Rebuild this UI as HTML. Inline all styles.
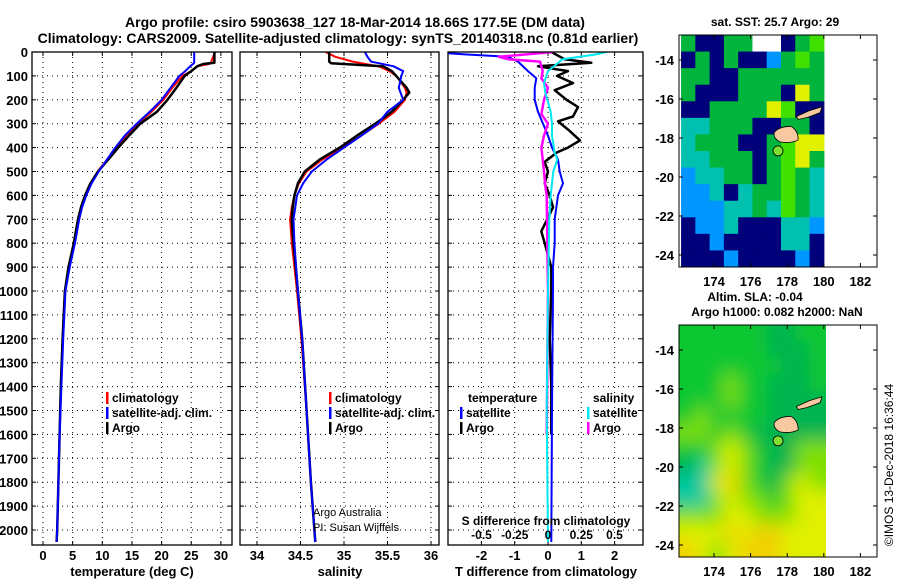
<!DOCTYPE html>
<html><head><meta charset="utf-8">
<style>
html,body{margin:0;padding:0;background:#fff;width:900px;height:580px;overflow:hidden}
svg text{font-family:"Liberation Sans",sans-serif;font-weight:bold;fill:#000}
</style></head>
<body>
<svg id="fig" width="900" height="580" viewBox="0 0 900 580" xmlns="http://www.w3.org/2000/svg">
<defs>
<clipPath id="cp1"><rect x="32" y="52" width="200" height="493"/></clipPath>
<clipPath id="cp2"><rect x="240" y="52" width="199" height="493"/></clipPath>
<clipPath id="cp3"><rect x="448" y="52" width="195" height="493"/></clipPath>
<clipPath id="cpm1"><rect x="679" y="35" width="147" height="232"/></clipPath>
<clipPath id="cpm2"><rect x="679" y="325" width="147" height="232"/></clipPath>
<filter id="blur" x="-10%" y="-10%" width="120%" height="120%"><feGaussianBlur stdDeviation="9"/></filter>
</defs>
<text x="355" y="27" text-anchor="middle" font-size="14">Argo profile: csiro 5903638_127 18-Mar-2014 18.66S 177.5E (DM data)</text>
<text x="338" y="43" text-anchor="middle" font-size="14">Climatology: CARS2009. Satellite-adjusted climatology: synTS_20140318.nc (0.81d earlier)</text>
<g id="layer"></g>
</svg>
<script>
// ---- data ----
const tDepth = [0,45,50,60,80,100,150,200,250,300,350,400,450,500,550,600,650,700,800,900,1000,1200,1400,1600,1800,2000,2050];
const tArgo  = [28.9,28.9,27,26,25,23.9,22.5,21,19.2,16.4,14.5,12.7,11,9.3,8,7.1,6.4,5.9,5.2,4.3,3.7,3.3,3.0,2.8,2.6,2.4,2.3];
const tClim  = [29,28.3,28,26,25,23.5,21.8,20.3,18.3,16,14,12.3,10.8,9.2,8,7.1,6.4,5.9,5.2,4.3,3.7,3.3,3.0,2.8,2.6,2.4,2.3];
const tSat   = [25.5,25.5,25.3,24.8,24,23,21.5,20,18,15.8,13.8,12.2,10.8,9.4,8.2,7.3,6.6,6.1,5.4,4.5,3.8,3.4,3.1,2.8,2.6,2.4,2.3];
const sDepth = [0,20,40,47,60,80,100,150,170,200,250,300,350,400,450,500,550,600,650,700,800,1000,1200,1500,1800,2000,2050];
const sArgo  = [34.83,34.83,34.83,34.85,35.45,35.55,35.6,35.72,35.75,35.68,35.55,35.36,35.15,34.95,34.72,34.55,34.47,34.43,34.41,34.4,34.42,34.47,34.52,34.57,34.62,34.66,34.67];
const sClim  = [34.79,34.9,35.1,35.2,35.4,35.52,35.6,35.7,35.72,35.7,35.58,35.4,35.2,34.98,34.75,34.57,34.48,34.43,34.4,34.38,34.4,34.46,34.51,34.57,34.62,34.66,34.67];
const sSat   = [35.24,35.27,35.31,35.4,35.57,35.68,35.66,35.63,35.65,35.68,35.5,35.39,35.2,35.0,34.8,34.63,34.53,34.46,34.44,34.42,34.43,34.47,34.52,34.57,34.62,34.66,34.67];
const dTArgoDepth = [0,30,45,60,80,100,130,160,200,230,270,290,330,370,400,420,460,500,550,600,650,750,800,900,1000,1200,1400,1600];
const dTArgo = [0.1,0.5,1.3,-0.3,0.6,0.27,0.75,0.2,0.56,0.9,0.75,0.3,0.65,0.96,0.6,0.27,-0.1,0,-0.1,0.05,0.15,-0.2,-0.1,0.1,0.1,0.05,0.1,0.1];
const dTSatDepth = [0,10,20,40,80,110,150,200,250,300,350,400,450,500,550,600,700,800,900,1000,1500,2050];
const dTSat = [-3.5,-2.5,-1.2,-0.9,-0.6,-0.35,-0.4,-0.4,-0.3,-0.15,0,0.12,0.3,0.35,0.45,0.3,0.2,0.2,0.15,0.15,0.12,0.1];
const dSArgoDepth = [0,20,30,40,80,110,150,200,260,300,350,400,450,500,560,600,1000,1600];
const dSArgo = [0.04,-0.37,-0.3,-0.06,-0.04,-0.05,0.0,-0.03,-0.05,0,-0.03,-0.05,-0.04,-0.03,-0.02,-0.01,0,-0.01];
const dSSatDepth = [0,10,30,80,130,170,250,300,350,420,450,500,600,700,1000,1500,2050];
const dSSat = [0.44,0.36,0.11,0.0,-0.03,-0.02,0.02,0.03,0.03,0.05,0.07,0.04,0.02,0.01,0,-0.01,0];
const depthTicks = [0,100,200,300,400,500,600,700,800,900,1000,1100,1200,1300,1400,1500,1600,1700,1800,1900,2000];
const tTicks = [0,5,10,15,20,25,30];
const sTicks = [34,34.5,35,35.5,36];
const sTickLabels = ["34","34.5","35","35.5","36"];
const dTTicks = [-2,-1,0,1,2];
const dSTicks = [-0.5,-0.25,0,0.25,0.5];
const dSTickLabels = ["-0.5","-0.25","0","0.25","0.5"];
const lonTicks = [174,176,178,180,182];
const latTicks = [-14,-16,-18,-20,-22,-24];
const sstGrid = ["GNNGGWWNGL","NGNGNNBGLG","GGNNGGGGGG","GNNNGGGNYG","NNGGGGYLNN","CCGGGNNGGN","CGGGNNGLYY","CCGGGNGLYG","BCCGGNGLGC","BBCNCGGLGC","BBBCCGCLGC","NBBCNNNCCB","NNBNNNNCCN","NNNBNNNNBN"];
const sstColors = {N:"#00007a",B:"#0096ff",C:"#00c0b0",G:"#00b43c",L:"#40e000",Y:"#e0f000",W:"#ffffff"};
const slaGrid = ["GGGGGGDDGG","GGGGGGDDDG","GGGGGGGDDG","GGGLGGDDDG","GGGLGGDDDD","GLGGGGDDDD","LLGLGDDDDD","GGLYLGDDLL","DTLYLGDDLL","TTYOLGDLYL","TTLYLLGLYY","LLLYYLLLYY","YYYOYOOYYY","OYLYOOOYYY"];
const slaColors = {G:"#10c830",D:"#00b450",L:"#80e000",Y:"#e0f000",O:"#f0d000",T:"#00c8a0"};

// ---- scales ----
const yD = d => 52 + d*0.239;
const xT = t => 43 + t*5.93;
const xS = s => 257 + (s-34)*87;
const xDT = v => 548 + v*33.3;
const xDS = v => 548 + v*133;
const NS = "http://www.w3.org/2000/svg";
const layer = document.getElementById('layer');
function mk(tag, attrs, parent){ const e=document.createElementNS(NS,tag); for(const k in attrs) e.setAttribute(k,attrs[k]); (parent||layer).appendChild(e); return e; }
function txt(x,y,s,size,anchor,parent){ const e=mk('text',{x:x,y:y,'font-size':size,'text-anchor':anchor||'middle'},parent); e.textContent=s; return e; }

function panel(name, x0, x1, xticks, xf){
  const g = mk('g',{});
  
  
  depthTicks.forEach(d=>{ if(d>0){ const l=mk('line',{x1:x0,x2:x1,y1:yD(d),y2:yD(d),stroke:'#000','stroke-width':1,'stroke-dasharray':'1 4'},g);
      }
    mk('line',{x1:x0,x2:x0+4,y1:yD(d),y2:yD(d),stroke:'#000'},g); mk('line',{x1:x1-4,x2:x1,y1:yD(d),y2:yD(d),stroke:'#000'},g); });
  xticks.forEach(v=>{ const X=xf(v); const l=mk('line',{x1:X,x2:X,y1:52,y2:545,stroke:'#000','stroke-width':1,'stroke-dasharray':'1 4'},g);
     
    mk('line',{x1:X,x2:X,y1:52,y2:56,stroke:'#000'},g); mk('line',{x1:X,x2:X,y1:541,y2:545,stroke:'#000'},g); });
  return g;
}
function series(g, depths, vals, xf, color, w, name, clip){
  const pts = depths.map((d,i)=>xf(vals[i]).toFixed(1)+','+yD(d).toFixed(1)).join(' ');
  const p = mk('polyline',{points:pts,fill:'none',stroke:color,'stroke-width':w,'clip-path':'url(#'+clip+')','stroke-linejoin':'round'},g);
  
  
}
function frame(g,x0,x1){ const r=mk('rect',{x:x0,y:52,width:x1-x0,height:493,fill:'none',stroke:'#000','stroke-width':1.3},g);
    }

const g1 = panel('temperature-panel',32,232,tTicks,xT);
series(g1,tDepth,tClim,xT,'#ff0000',2,'temperature-climatology-line','cp1');
series(g1,tDepth,tArgo,xT,'#000000',2.5,'temperature-argo-line','cp1');
series(g1,tDepth,tSat,xT,'#0000ff',2,'temperature-satellite-line','cp1');
frame(g1,32,232);
depthTicks.forEach(d=>{ const t=txt(28,yD(d)+5,String(d),13,'end',g1);   });
tTicks.forEach(v=>{ const t=txt(xT(v),560,String(v),13,'middle',g1);   });
const g2 = panel('salinity-panel',240,439,sTicks,xS);
series(g2,sDepth,sClim,xS,'#ff0000',2,'salinity-climatology-line','cp2');
series(g2,sDepth,sArgo,xS,'#000000',2.5,'salinity-argo-line','cp2');
series(g2,sDepth,sSat,xS,'#0000ff',2,'salinity-satellite-line','cp2');
frame(g2,240,439);
sTicks.forEach((v,i)=>{ const t=txt(xS(v),560,sTickLabels[i],13,'middle',g2);   });
const g3 = panel('difference-panel',448,643,dTTicks,xDT);
series(g3,dTArgoDepth,dTArgo,xDT,'#000000',2.5,'temperature-argo-diff-line','cp3');
series(g3,dTSatDepth,dTSat,xDT,'#0000ff',2,'temperature-satellite-diff-line','cp3');
series(g3,dSArgoDepth,dSArgo,xDS,'#ff00ff',2.5,'salinity-argo-diff-line','cp3');
series(g3,dSSatDepth,dSSat,xDS,'#00e8f0',2,'salinity-satellite-diff-line','cp3');
frame(g3,448,643);
dTTicks.forEach(v=>{ const t=txt(xDT(v),560,String(v),13,'middle',g3);   });
dSTicks.forEach((v,i)=>{ const t=txt(xDS(v),539,dSTickLabels[i],12,'middle',g3);   });

function legendEntry(x,y,color,label,name){
  const g=mk('g',{});
  
  
  mk('rect',{x:x,y:y-10,width:2.5,height:12,fill:color},g);
  txt(x+6,y,label,12,'start',g);
}
legendEntry(106,402,'#ff0000','climatology','legend-entry-climatology');
legendEntry(106,417,'#0000ff','satellite-adj. clim.','legend-entry-satellite');
legendEntry(106,432,'#000000','Argo','legend-entry-argo');
legendEntry(329,402,'#ff0000','climatology','legend-entry-climatology-2');
legendEntry(329,417,'#0000ff','satellite-adj. clim.','legend-entry-satellite-2');
legendEntry(329,432,'#000000','Argo','legend-entry-argo-2');
txt(468,402,'temperature',12,'start');
legendEntry(460,417,'#0000ff','satellite','legend-entry-t-satellite');
legendEntry(460,432,'#000000','Argo','legend-entry-t-argo');
txt(593,402,'salinity',12,'start');
legendEntry(587,417,'#00e8f0','satellite','legend-entry-s-satellite');
legendEntry(587,432,'#ff00ff','Argo','legend-entry-s-argo');
txt(546,525,'S difference from climatology',12,'middle');
const n1=mk('text',{x:313,y:516,'font-size':11,'text-anchor':'start'}); n1.textContent='Argo Australia';   n1.style.fontWeight='normal';
const n2=mk('text',{x:313,y:531,'font-size':11,'text-anchor':'start'}); n2.textContent='PI: Susan Wijffels';   n2.style.fontWeight='normal';
txt(132,576,'temperature (deg C)',13);
txt(340,576,'salinity',13);
txt(546,576,'T difference from climatology',13);

const lonX = lon=>714 + (lon-174)*18.3;
function map(name, top, grid, colors, clip, blur){
  const latY = lat => top+25 + (-14-lat)*19.5;
  const g=mk('g',{});
  
  
  const cells=mk('g',{'clip-path':'url(#'+clip+')'},g);
  const inner=mk('g',blur?{filter:'url(#blur)'}:{},cells);
  const x0=lonX(172.2), x1=lonX(180), y0=top, y1=top+232;
  const cw=(x1-x0)/grid[0].length, ch=(y1-y0)/grid.length;
  grid.forEach((row,r)=>{ [...row].forEach((c,k)=>{ const pad=blur?30:0;
    mk('rect',{x:x0+k*cw-(k==0?pad:0),y:y0+r*ch-(r==0?pad:0),width:cw+0.6+(k==0||k==row.length-1?pad:0),height:ch+0.6+(r==0||r==grid.length-1?pad:0),fill:colors[c]},inner); }); });
  const vl=mk('path',{d:`M${lonX(177.3)},${latY(-17.7)} Q${lonX(177.6)},${latY(-17.4)} ${lonX(178.2)},${latY(-17.4)} Q${lonX(178.6)},${latY(-17.6)} ${lonX(178.6)},${latY(-18.1)} Q${lonX(178.2)},${latY(-18.3)} ${lonX(177.6)},${latY(-18.2)} Q${lonX(177.2)},${latY(-18)} ${lonX(177.3)},${latY(-17.7)} Z`,fill:'#f8c8a0',stroke:'#000','stroke-width':0.8},g);
   
  const vn=mk('path',{d:`M${lonX(178.5)},${latY(-16.9)} L${lonX(179.2)},${latY(-16.6)} L${lonX(179.9)},${latY(-16.4)} L${lonX(179.8)},${latY(-16.7)} L${lonX(179.1)},${latY(-16.95)} L${lonX(178.6)},${latY(-17.05)} Z`,fill:'#f8c8a0',stroke:'#000','stroke-width':0.8},g);
   
  const pt=mk('circle',{cx:lonX(177.5),cy:latY(-18.66),r:5,fill:'#80e030',stroke:'#000','stroke-width':0.8},g);
   
  const fr=mk('rect',{x:679,y:top,width:198,height:232,fill:'none',stroke:'#000','stroke-width':1},g);
   
  latTicks.forEach(l=>{ const Y=latY(l); mk('line',{x1:679,x2:683,y1:Y,y2:Y,stroke:'#000'},g); mk('line',{x1:873,x2:877,y1:Y,y2:Y,stroke:'#000'},g);
    const t=txt(674,Y+5,String(l),13,'end',g);   });
  lonTicks.forEach(l=>{ const X=lonX(l); mk('line',{x1:X,x2:X,y1:top,y2:top+4,stroke:'#000'},g); mk('line',{x1:X,x2:X,y1:top+228,y2:top+232,stroke:'#000'},g);
    const t=txt(X,top+251,String(l),13,'middle',g);   });
}
map('sst-map',35,sstGrid,sstColors,'cpm1',false);
map('sla-map',325,slaGrid,slaColors,'cpm2',true);
txt(775,26,'sat. SST: 25.7 Argo: 29',12);
txt(755,301,'Altim. SLA: -0.04',12);
txt(777,316,'Argo h1000: 0.082 h2000: NaN',12);
const cr=mk('text',{x:0,y:0,'font-size':12,'text-anchor':'middle',transform:'translate(893,465) rotate(-90)'}); cr.textContent='©IMOS 13-Dec-2018 16:36:44'; cr.style.fontWeight='normal';
 
</script>
</body></html>
